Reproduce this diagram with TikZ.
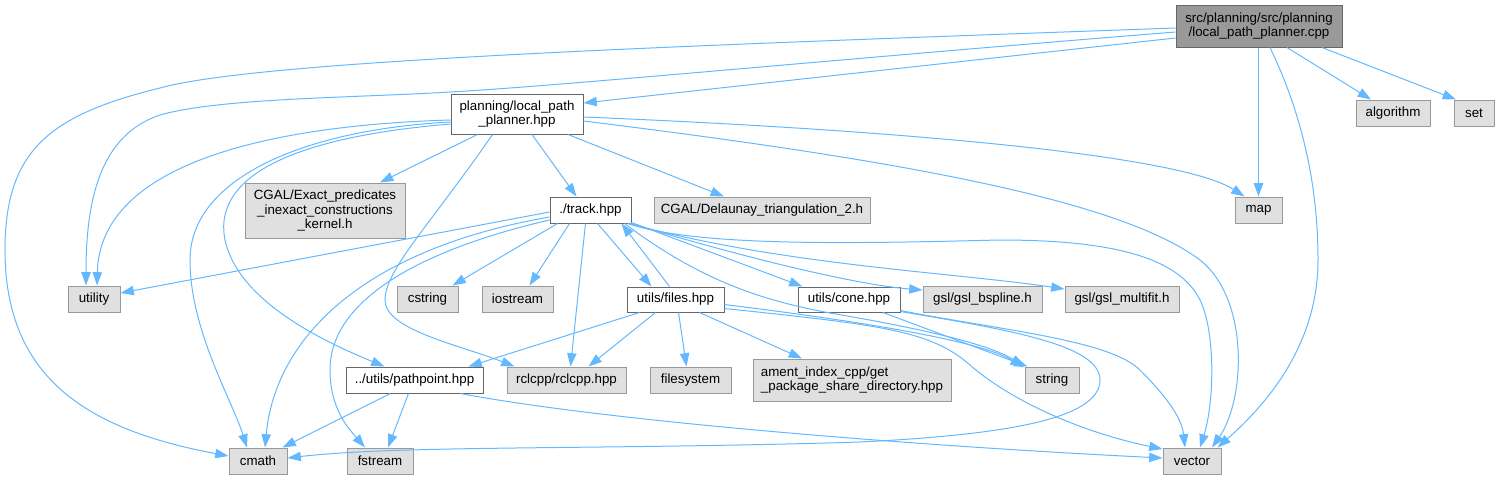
\documentclass[tikz,border=0pt]{standalone}
\usepackage{fontspec}
\setmainfont{Liberation Sans}
\usetikzlibrary{arrows.meta,calc}
\definecolor{edgec}{HTML}{63B8FF}
\definecolor{gfill}{HTML}{E0E0E0}
\definecolor{gdraw}{HTML}{999999}
\definecolor{wdraw}{HTML}{666666}
\definecolor{mfill}{HTML}{999999}
\tikzset{
  base/.style={rectangle, inner sep=0pt, line width=0.75pt, font=\fontsize{10}{11}\selectfont, align=center, text=black},
  sz/.style 2 args={minimum width=#1*0.75pt, minimum height=#2*0.75pt},
  gnode/.style={base, fill=gfill, draw=gdraw},
  wnode/.style={base, fill=white, draw=wdraw},
  mnode/.style={base, fill=mfill, draw=wdraw},
  e/.style={draw=edgec, line width=0.75pt, -{Triangle[length=10pt,width=7pt]}}
}
\begin{document}
\begin{tikzpicture}[x=0.75pt, y=-0.75pt]
\useasboundingbox (0,0) rectangle (1500,480);
% nodes
\node[mnode, sz={166}{42}] (main) at (1259,26) {src/planning/src/planning\\/local\_path\_planner.cpp};
\node[gnode, sz={74}{26}] (algorithm) at (1393,113) {algorithm};
\node[gnode, sz={40}{26}] (set) at (1474,113) {set};
\node[wnode, sz={132}{40}] (lph) at (517,114) {planning/local\_path\\\_planner.hpp};
\node[wnode, sz={81}{26}] (track) at (590.5,210) {./track.hpp};
\node[gnode, sz={216}{26}] (delaunay) at (762,210) {CGAL/Delaunay\_triangulation\_2.h};
\node[gnode, sz={160}{55}] (exact) at (325,210.5) {CGAL/Exact\_predicates\\\_inexact\_constructions\\\_kernel.h};
\node[gnode, sz={47}{26}] (map) at (1258.5,210) {map};
\node[gnode, sz={52}{26}] (utility) at (94,299) {utility};
\node[gnode, sz={61}{26}] (cstring) at (427.5,299) {cstring};
\node[gnode, sz={71}{26}] (iostream) at (517.5,299) {iostream};
\node[wnode, sz={97}{25}] (files) at (675.5,299.5) {utils/files.hpp};
\node[wnode, sz={102}{25}] (cone) at (849,299.5) {utils/cone.hpp};
\node[gnode, sz={119}{26}] (bspline) at (982.5,299) {gsl/gsl\_bspline.h};
\node[gnode, sz={114}{26}] (multifit) at (1122,299) {gsl/gsl\_multifit.h};
\node[wnode, sz={137}{26}] (pathpoint) at (414.5,380) {../utils/pathpoint.hpp};
\node[gnode, sz={119}{26}] (rclcpp) at (566.5,380) {rclcpp/rclcpp.hpp};
\node[gnode, sz={81}{26}] (filesystem) at (690.5,380) {filesystem};
\node[gnode, sz={198}{42}, align=left] (ament) at (852,380) {ament\_index\_cpp/get\\\_package\_share\_directory.hpp};
\node[gnode, sz={54}{26}] (string) at (1052,380) {string};
\node[gnode, sz={58}{26}] (cmath) at (258,461) {cmath};
\node[gnode, sz={66}{26}] (fstream) at (380,461) {fstream};
\node[gnode, sz={58}{26}] (vector) at (1192,461) {vector};
% main edges
\draw[e] ($(main.west)+(0,2)$) .. controls (700,45) and (260,60) .. (160,88) .. controls (50,115) and (5,150) .. (5,250) .. controls (5,380) and (90,430) .. ($(cmath.west)+(0,-5)$);
\draw[e] ($(main.west)+(0,6)$) .. controls (850,58) and (560,86) .. (450,92) .. controls (350,98) and (220,98) .. (160,115) .. controls (100,135) and (86,200) .. ($(utility.north)+(-8,0)$);
\draw[e] ($(main.west)+(0,12)$) -- ($(lph.east)+(0,-11)$);
\draw[e] (map.north |- main.south) -- (map.north);
\draw[e] ($(main.south)+(11,0)$) .. controls (1300,110) and (1318,180) .. (1318,260) .. controls (1318,350) and (1260,410) .. ($(vector.north east)+(-4,0)$);
\draw[e] ($(main.south)+(28,0)$) -- ($(algorithm.north)+(-22,0)$);
\draw[e] ($(main.south)+(63,0)$) -- ($(set.north)+(-18,0)$);
% lph edges
\draw[e] ($(lph.west)+(0,6)$) .. controls (280,125) and (100,160) .. ($(utility.north)+(3,0)$);
\draw[e] ($(lph.west)+(0,8)$) .. controls (300,130) and (190,180) .. (190,260) .. controls (190,330) and (232,400) .. ($(cmath.north)+(-11,0)$);
\draw[e] ($(lph.west)+(0,10)$) .. controls (260,140) and (215,190) .. (225,240) .. controls (238,300) and (320,340) .. ($(pathpoint.north)+(-30,0)$);
\draw[e] ($(lph.south west)+(27,0)$) -- ($(exact.north)+(55,0)$);
\draw[e] ($(lph.south west)+(42,0)$) .. controls (430,225) and (385,270) .. (385,300) .. controls (385,330) and (460,345) .. ($(rclcpp.north west)+(8,0)$);
\draw[e] ($(lph.south)+(15,0)$) -- ($(track.north)+(-14,0)$);
\draw[e] ($(lph.south)+(51,0)$) -- ($(delaunay.north)+(-38,0)$);
\draw[e] ($(lph.east)+(0,3)$) .. controls (900,130) and (1180,155) .. ($(map.north west)+(10,0)$);
\draw[e] ($(lph.east)+(0,7)$) .. controls (900,160) and (1120,200) .. (1200,260) .. controls (1250,300) and (1245,400) .. ($(vector.north)+(20,0)$);
% track edges
\draw[e] ($(track.west)+(0,2)$) -- ($(utility.east)+(0,-6)$);
\draw[e] ($(track.west)+(0,7)$) .. controls (360,250) and (275,340) .. ($(cmath.north)+(7,0)$);
\draw[e] ($(track.west)+(0,10)$) .. controls (420,250) and (330,300) .. (330,370) .. controls (330,410) and (350,430) .. ($(fstream.north)+(-15,0)$);
\draw[e] ($(track.south west)+(8,0)$) -- ($(cstring.north east)+(-6,0)$);
\draw[e] ($(track.south west)+(20,0)$) -- ($(iostream.north)+(12,0)$);
\draw[e] ($(track.south)+(-5,0)$) -- ($(rclcpp.north)+(4,0)$);
\draw[e] ($(track.south)+(7,0)$) -- ($(files.north)+(-24,0)$);
\draw[e] ($(files.north)+(-6,0)$) -- ($(track.south east)+(-10,0)$);
\draw[e] ($(track.south east)+(0,-1)$) -- ($(cone.north west)+(5,0)$);
\draw[e] ($(track.south east)+(-1,0)$) .. controls (760,262) and (860,285) .. ($(bspline.west)+(0,-9)$);
\draw[e] ($(track.south east)+(-2,0)$) .. controls (780,265) and (950,272) .. ($(multifit.west)+(0,-10)$);
\draw[e] ($(track.south east)+(-4,0)$) .. controls (700,248) and (870,243) .. (1000,240) .. controls (1120,240) and (1180,260) .. (1200,300) .. controls (1215,330) and (1215,400) .. ($(vector.north)+(8,0)$);
\draw[e] ($(track.south east)+(-7,0)$) .. controls (700,280) and (760,300) .. (830,313) .. controls (930,330) and (990,345) .. (string.north west);
% files edges
\draw[e] ($(files.south west)+(13,0)$) -- ($(pathpoint.north east)+(-15,0)$);
\draw[e] ($(files.south)+(-20,0)$) -- ($(rclcpp.north)+(22,0)$);
\draw[e] ($(files.south)+(3,0)$) -- ($(filesystem.north)+(-4,0)$);
\draw[e] ($(files.south)+(24,0)$) -- ($(ament.north)+(-50,0)$);
\draw[e] ($(files.east)+(0,5)$) .. controls (850,320) and (980,340) .. ($(string.north west)+(-1,1)$);
\draw[e] ($(files.east)+(0,9)$) .. controls (880,325) and (930,330) .. (970,365) .. controls (1010,400) and (1080,432) .. ($(vector.west)+(0,-12)$);
% cone edges
\draw[e] ($(cone.south)+(34,0)$) -- ($(string.north west)+(3,0)$);
\draw[e] ($(cone.south east)+(0,-2)$) .. controls (1000,330) and (1110,340) .. (1140,370) .. controls (1170,400) and (1182,420) .. ($(vector.north)+(-7,0)$);
\draw[e] ($(cone.south east)+(0,-1)$) .. controls (1010,330) and (1100,345) .. (1100,380) .. controls (1100,420) and (1000,435) .. (860,442) .. controls (600,450) and (400,445) .. ($(cmath.east)+(0,-3)$);
% pathpoint edges
\draw[e] ($(pathpoint.south)+(-24,0)$) -- ($(cmath.north east)+(-5,0)$);
\draw[e] ($(pathpoint.south)+(-6,0)$) -- ($(fstream.north)+(8,0)$);
\draw[e] ($(pathpoint.south east)+(-23,0)$) .. controls (600,420) and (900,445) .. ($(vector.west)+(0,-3)$);
\end{tikzpicture}
\end{document}
